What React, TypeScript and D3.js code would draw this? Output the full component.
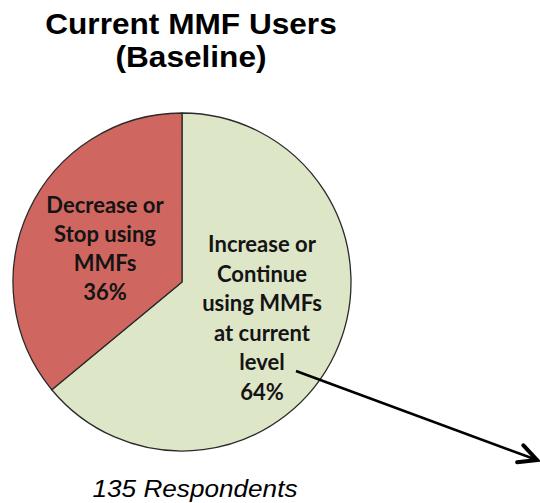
import React, { useRef, useEffect } from 'react'
import * as d3 from 'd3'

// slice data (clockwise from 12 o'clock)
const categories = ['Increase or Continue using MMFs at current level', 'Decrease or Stop using MMFs']
const shares = [64, 36]
const sliceColors = ['#dee6c8', '#cf6760']
const labelLines = [
  ['Increase or', 'Continue', 'using MMFs', 'at current', 'level', '64%'],
  ['Decrease or', 'Stop using', 'MMFs', '36%'],
]
const titleLines = ['Current MMF Users', '(Baseline)']
const footnote = '135 Respondents'

interface Slice {
  name: string
  value: number
}

const App: React.FC = () => {
  const ref = useRef<SVGSVGElement>(null)

  useEffect(() => {
    if (!ref.current) return
    const svg = d3.select(ref.current)
    svg.selectAll('*').remove()

    const width = 540
    const height = 503
    const cx = 182
    const cy = 282
    const radius = 169

    const data: Slice[] = categories.map((c, i) => ({ name: c, value: shares[i] }))

    // title, a bit wider than plain Arial in the original
    const title = svg.append('g').attr('transform', `translate(191, 0) scale(1.09, 1)`)
    title.selectAll('text')
      .data(titleLines)
      .join('text')
      .attr('x', 0)
      .attr('y', (d, i) => 34 + i * 33)
      .attr('text-anchor', 'middle')
      .style('font-family', '"Liberation Sans", Arial, sans-serif')
      .style('font-weight', 'bold')
      .style('font-size', '29px')
      .style('fill', '#000')
      .text(d => d)

    const pie = d3.pie<Slice>().sort(null).value(d => d.value)
    const arc = d3.arc<d3.PieArcDatum<Slice>>().innerRadius(0).outerRadius(radius)
    const arcs = pie(data)

    const g = svg.append('g').attr('transform', `translate(${cx}, ${cy})`)
    g.selectAll('path')
      .data(arcs)
      .join('path')
      .attr('d', arc)
      .attr('fill', (d, i) => sliceColors[i])
      .attr('stroke', '#2a2a2a')
      .attr('stroke-width', 1.3)
      .attr('stroke-linejoin', 'round')

    // labels inside the slices
    const labelPos = [
      { x: 262, y: 252, step: 29.5 },
      { x: 105, y: 213, step: 29 },
    ]
    labelLines.forEach((lines, i) => {
      const p = labelPos[i]
      svg.append('g')
        .selectAll('text')
        .data(lines)
        .join('text')
        .attr('x', p.x)
        .attr('y', (d, j) => p.y + j * p.step)
        .attr('text-anchor', 'middle')
        .style('font-family', 'Lato, "Open Sans", sans-serif')
        .style('font-weight', 'bold')
        .style('font-size', '22px')
        .style('fill', '#141414')
        .text(d => d)
    })

    // arrow from the "level" line out to the right
    const x0 = 296
    const y0 = 371
    const x1 = 537
    const y1 = 460
    svg.append('line')
      .attr('x1', x0)
      .attr('y1', y0)
      .attr('x2', x1 - 2)
      .attr('y2', y1 - 0.7)
      .attr('stroke', '#000')
      .attr('stroke-width', 2.6)
    const ang = Math.atan2(y1 - y0, x1 - x0)
    const headLen = 20
    const spread = 0.47
    const head = [
      [x1 - headLen * Math.cos(ang - spread), y1 - headLen * Math.sin(ang - spread)],
      [x1, y1],
      [x1 - headLen * Math.cos(ang + spread), y1 - headLen * Math.sin(ang + spread)],
    ] as [number, number][]
    svg.append('path')
      .attr('d', d3.line()(head))
      .attr('fill', 'none')
      .attr('stroke', '#000')
      .attr('stroke-width', 4)
      .attr('stroke-linecap', 'round')
      .attr('stroke-linejoin', 'miter')

    // respondents count
    svg.append('text')
      .attr('transform', `translate(195, 497) scale(1.09, 1)`)
      .attr('text-anchor', 'middle')
      .style('font-family', '"Liberation Sans", Arial, sans-serif')
      .style('font-style', 'italic')
      .style('font-size', '24px')
      .style('fill', '#000')
      .text(footnote)

    svg.attr('width', width).attr('height', height)
  }, [])

  return (
    <svg
      ref={ref}
      width={540}
      height={503}
      style={{ position: 'absolute', left: 0, top: 0, background: '#fff' }}
    />
  )
}

export default App
